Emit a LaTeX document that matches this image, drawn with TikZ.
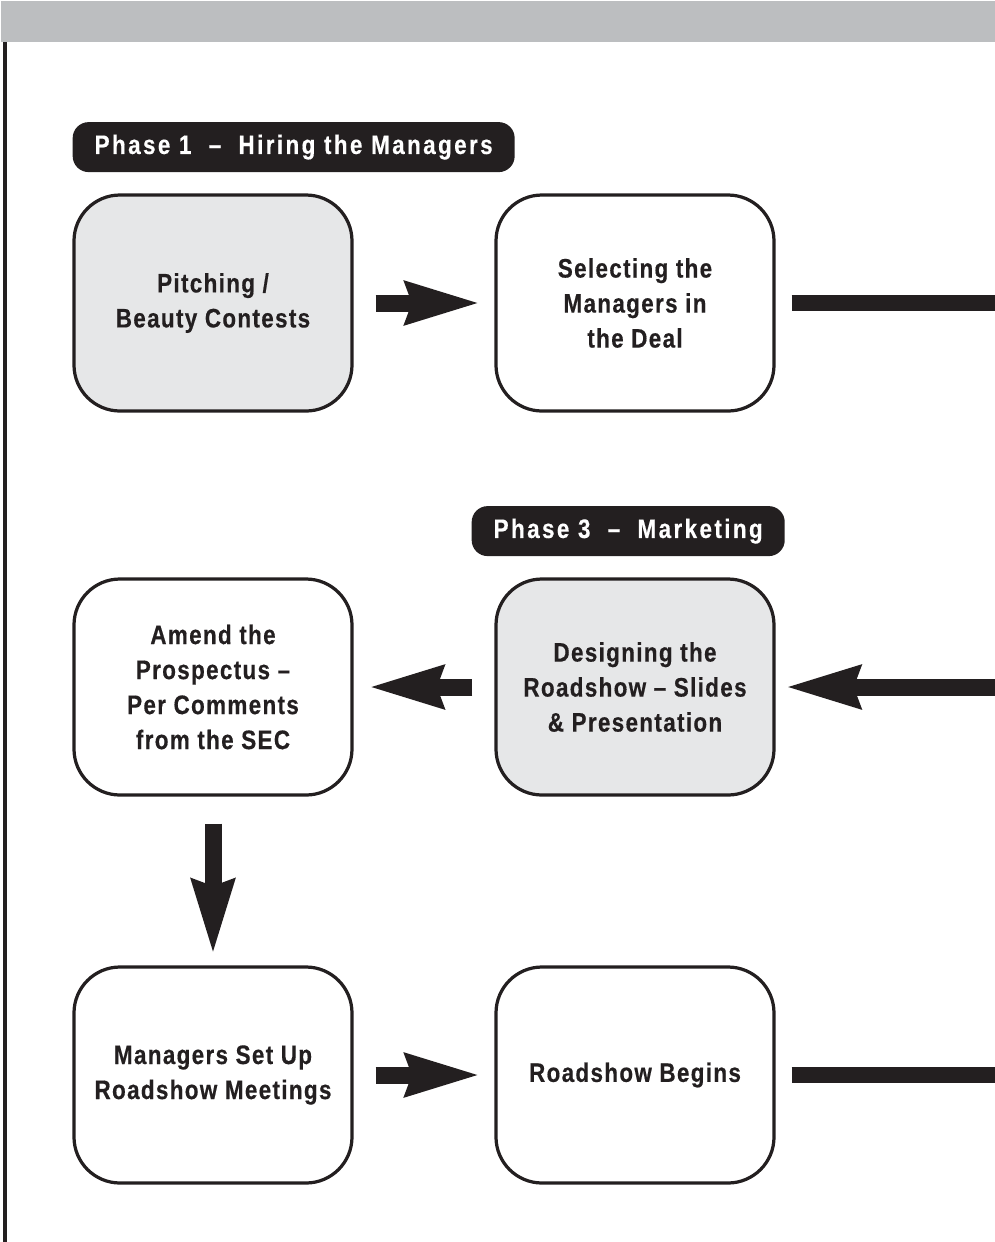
\documentclass[tikz,border=0pt]{standalone}
\usepackage{fontspec}
\usepackage{xcolor}
\usepackage{tikz}
\usetikzlibrary{arrows.meta, positioning}
\newfontfamily\stagefont{Liberation Sans}[FakeStretch=0.84, LetterSpace=5, BoldFeatures={FakeBold=0.4}]
\newfontfamily\phasefont{Liberation Sans}[FakeStretch=0.84, LetterSpace=9, BoldFeatures={FakeBold=0.4}]
\definecolor{ink}{HTML}{231F20}
\definecolor{shade}{HTML}{E6E7E8}
\definecolor{band}{HTML}{BCBEC0}
\tikzstyle{stage} = [rectangle, rounded corners=1.15cm, minimum width=6.95cm, minimum height=5.4cm, text centered, draw=ink, line width=2.3pt, fill=white, text=ink, font=\stagefont\bfseries\fontsize{19}{24.9}\selectfont]
\tikzstyle{stagehl} = [stage, fill=shade]
\tikzstyle{phase} = [rectangle, rounded corners=0.4cm, minimum height=1.25cm, inner xsep=0.55cm, fill=ink, text=white, font=\phasefont\bfseries\fontsize{19}{24.9}\selectfont]
\tikzstyle{bigarrow} = [line width=0.425cm, draw=ink, -{Stealth[length=1.85cm, width=1cm, inset=0.125cm]}]
\tikzstyle{bar} = [line width=0.4cm, draw=ink]
\tikzset{every node/.style={align=center}}

\begin{document}
\begin{tikzpicture}[node distance=9.6cm]
    \useasboundingbox (0,0) rectangle (24.875,-31.05);
    % page band and margin rule
    \fill[band] (0.025,-0.025) rectangle (24.875,-1.04);
    \fill[ink] (0.075,-1.04) rectangle (0.175,-31.05);
    \coordinate (edge) at (24.875,0);

    \node (pitch)  [stagehl] at (5.325,-7.575) {Pitching /\\Beauty Contests};
    \node (select) [stage, right of=pitch, xshift=0.95cm] {Selecting the\\Managers in\\the Deal};
    \node (amend)  [stage, below of=pitch] {Amend the\\Prospectus –\\Per Comments\\from the SEC};
    \node (design) [stagehl, right of=amend, xshift=0.95cm] {Designing the\\Roadshow – Slides\\\& Presentation};
    \node (setup)  [stage, below of=amend, yshift=-0.1cm] {Managers Set Up\\Roadshow Meetings};
    \node (begins) [stage, right of=setup, xshift=0.95cm] {Roadshow Begins};

    \node (ph1) [phase, above right=0.525cm and 0cm of pitch.north west] {Phase 1 \ – \ Hiring the Managers};
    \node (ph3) [phase, above right=0.525cm and -0.575cm of design.north west] {Phase 3 \ – \ Marketing};

    \draw [bigarrow] ([xshift=0.55cm]pitch.east) -- ([xshift=-0.33cm]select.west);
    \draw [bar] ([xshift=0.4cm]select.east) -- (select.east -| edge);
    \draw [bigarrow] (design.east -| edge) -- ([xshift=0.22cm]design.east);
    \draw [bigarrow] ([xshift=-0.55cm]design.west) -- ([xshift=0.35cm]amend.east);
    \draw [bigarrow] ([yshift=-0.675cm]amend.south) -- ([yshift=0.25cm]setup.north);
    \draw [bigarrow] ([xshift=0.55cm]setup.east) -- ([xshift=-0.33cm]begins.west);
    \draw [bar] ([xshift=0.4cm]begins.east) -- (begins.east -| edge);
\end{tikzpicture}
\end{document}
